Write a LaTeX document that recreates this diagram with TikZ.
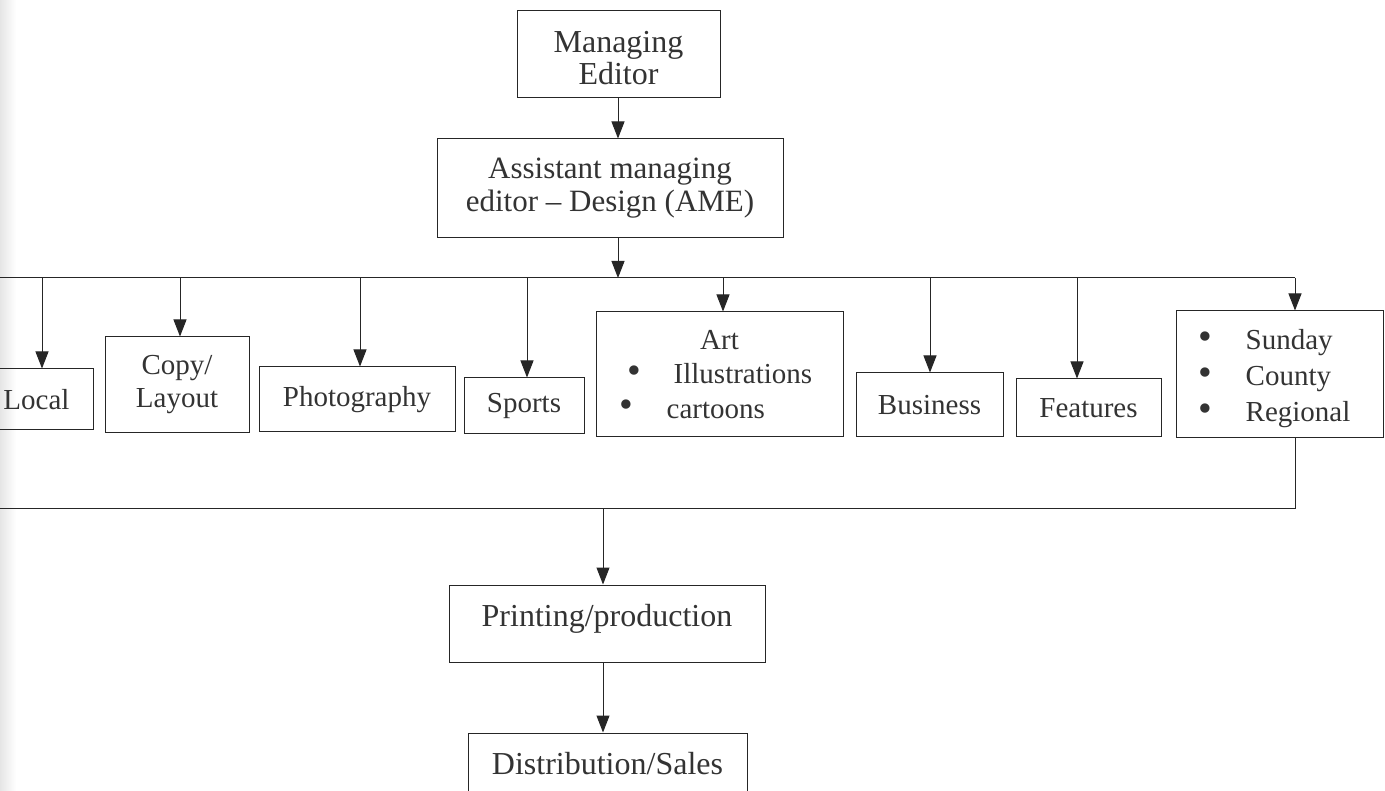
\documentclass[tikz,border=0pt]{standalone}
\usepackage{fontspec}
\usepackage{graphicx}
\setmainfont{Liberation Serif}
\usetikzlibrary{arrows.meta}
\newcommand{\bul}{\raisebox{0.05ex}{\scalebox{1.35}{\textbullet}}}
\newcommand{\tallstrut}[1]{\rule{0pt}{#1}}
\newcommand{\deepstrut}[1]{\rule[-#1]{0pt}{#1}}
\begin{document}
\begin{tikzpicture}[x=1pt,y=-1pt,
  box/.style={draw=black!85, line width=1pt, inner sep=0pt, align=center,
    text=black!80, font=\fontsize{29}{33}\selectfont},
  big/.style={font=\fontsize{32}{32}\selectfont},
  arr/.style={draw=black!85, line width=1pt, -{Triangle[width=13pt,length=17pt]}},
  ln/.style={draw=black!85, line width=1pt}]
\useasboundingbox (0,0) rectangle (1385,791);
\clip (0,0) rectangle (1385,791);
\shade[left color=black!10, right color=white] (0,0) rectangle (16,791);

% top
\node[box, big, minimum width=203pt, minimum height=87pt] (me) at (618.5,54.5)
  {\tallstrut{29pt}Managing\\Editor};
\node[box, font=\fontsize{31}{33}\selectfont, minimum width=346pt, minimum height=99pt] (ame) at (610,188.5)
  {Assistant managing\\editor -- Design (AME)};

% department boxes
\node[box, minimum width=113pt, minimum height=61pt] (local) at (36.5,399.5) {Local};
\node[box, minimum width=144pt, minimum height=96pt] (copy) at (177,385) {Copy/\\Layout};
\node[box, minimum width=196pt, minimum height=65pt] (photo) at (357,399.5) {Photography};
\node[box, minimum width=120pt, minimum height=56pt] (sports) at (524,406) {Sports};
\node[box, minimum width=247pt, minimum height=125pt, text width=247pt, align=left,
  font=\fontsize{29}{34.5}\selectfont] (art) at (719.5,374.5)
  {\makebox[247pt]{Art}\\\hspace*{31pt}\bul\hspace{33pt}Illustrations\\\hspace*{23pt}\bul\hspace{34pt}cartoons};
\node[box, minimum width=147pt, minimum height=64pt] (bus) at (929.5,405) {Business};
\node[box, minimum width=145pt, minimum height=58pt] (feat) at (1088.5,408) {Features};
\node[box, minimum width=207pt, minimum height=127pt, text width=207pt, align=left,
  font=\fontsize{29}{36}\selectfont] (sun) at (1279.5,374.5)
  {\hspace*{22pt}\tallstrut{29pt}\bul\hspace{34pt}Sunday\\\hspace*{22pt}\bul\hspace{34pt}County\\\hspace*{22pt}\bul\hspace{34pt}Regional};

% bottom
\node[box, big, minimum width=316pt, minimum height=77pt] (print) at (607,623.5)
  {Printing/production\deepstrut{16pt}};
\node[box, big, minimum width=279pt, minimum height=77pt] (dist) at (607.5,771.5)
  {Distribution/Sales\deepstrut{16pt}};

% bus coordinates
\coordinate (busL) at (0,278);
\coordinate (busR) at (1295,278);
\coordinate (tME) at (618,278);
\coordinate (tLocal) at (42,278);
\coordinate (tCopy) at (180,278);
\coordinate (tPhoto) at (360,278);
\coordinate (tSports) at (527,278);
\coordinate (tArt) at (723,278);
\coordinate (tBus) at (930,278);
\coordinate (tFeat) at (1077,278);
\coordinate (botL) at (0,509);
\coordinate (botR) at (1295,509);
\coordinate (botP) at (603,509);

% connectors
\draw[arr] (tME |- me.south) -- (tME |- ame.north);
\draw[arr] (tME |- ame.south) -- (tME);
\draw[ln] (busL) -- (busR);
\draw[arr] (busR) -- (busR |- sun.north);
\draw[arr] (tLocal) -- (tLocal |- local.north);
\draw[arr] (tCopy) -- (tCopy |- copy.north);
\draw[arr] (tPhoto) -- (tPhoto |- photo.north);
\draw[arr] (tSports) -- (tSports |- sports.north);
\draw[arr] (tArt) -- (tArt |- art.north);
\draw[arr] (tBus) -- (tBus |- bus.north);
\draw[arr] (tFeat) -- (tFeat |- feat.north);
\draw[ln] (botR |- sun.south) -- (botR) -- (botL);
\draw[arr] (botP) -- (botP |- print.north);
\draw[arr] (botP |- print.south) -- (botP |- dist.north);
\end{tikzpicture}
\end{document}
